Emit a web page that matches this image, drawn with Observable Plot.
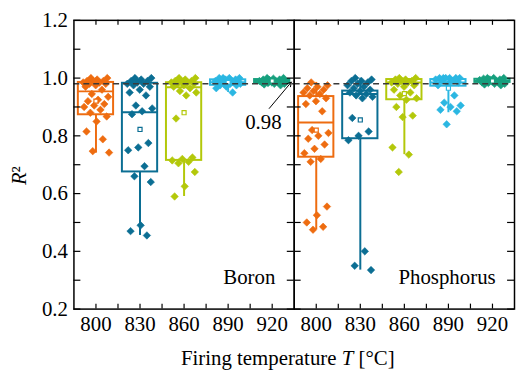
<!DOCTYPE html>
<html>
<head>
<meta charset="utf-8">
<script src="https://cdn.jsdelivr.net/npm/d3@7"></script>
<script src="https://cdn.jsdelivr.net/npm/@observablehq/plot@0.6"></script>
<style>
  html, body { margin: 0; padding: 0; background: white; overflow: hidden; width: 516px; height: 378px; }
</style>
</head>
<body>
<div id="chart"></div>
<script>
// ---------- data ----------
const temps = [800, 830, 860, 890, 920];
const elements = ["Boron", "Phosphorus"];
const palette = ["#ee6c10", "#0b6e93", "#b3c80a", "#2bb7e2", "#17a07e"];
const yTickLabels = [0.2, 0.4, 0.6, 0.8, 1.0, 1.2];
const yMinorTicks = [0.3, 0.5, 0.7, 0.9, 1.1];
const xMinorTicks = [815, 845, 875, 905];
const refLine = 0.98;

// box statistics (per temperature)
const boronQ1     = [0.873, 0.675, 0.715, 0.975, 0.982];
const boronMedian = [0.954, 0.882, 0.968, 0.986, 0.990];
const boronQ3     = [0.985, 0.982, 0.984, 0.994, 0.995];
const boronLow    = [0.740, 0.455, 0.590, 0.950, 0.975];
const boronHigh   = [1.000, 1.000, 1.000, 1.000, 1.000];
const boronMean   = [0.920, 0.822, 0.880, 0.985, 0.990];

const phosQ1      = [0.726, 0.790, 0.925, 0.972, 0.985];
const phosMedian  = [0.846, 0.945, 0.985, 0.985, 0.990];
const phosQ3      = [0.936, 0.955, 0.995, 0.995, 0.996];
const phosLow     = [0.475, 0.335, 0.735, 0.880, 0.978];
const phosHigh    = [0.985, 1.000, 1.000, 1.000, 1.000];
const phosMean    = [0.820, 0.855, 0.946, 0.965, 0.990];

// individual R² values
const boron800 = [1.0, 1.0, 0.995, 0.99, 0.99, 0.99, 0.985, 0.985, 0.98, 0.98, 0.975, 0.97, 0.96, 0.945, 0.935, 0.925, 0.92, 0.91, 0.905, 0.9, 0.89, 0.88, 0.867, 0.85, 0.815, 0.788, 0.747, 0.742];
const boron830 = [1.0, 1.0, 0.995, 0.99, 0.99, 0.985, 0.98, 0.98, 0.975, 0.97, 0.96, 0.95, 0.94, 0.905, 0.895, 0.885, 0.875, 0.775, 0.76, 0.75, 0.695, 0.66, 0.64, 0.49, 0.47, 0.455];
const boron860 = [1.0, 1.0, 0.995, 0.99, 0.99, 0.99, 0.985, 0.985, 0.98, 0.98, 0.975, 0.97, 0.965, 0.955, 0.95, 0.94, 0.86, 0.725, 0.72, 0.715, 0.71, 0.705, 0.675, 0.625, 0.59];
const boron890 = [1.0, 1.0, 1.0, 1.0, 0.995, 0.995, 0.99, 0.99, 0.99, 0.99, 0.985, 0.985, 0.985, 0.98, 0.98, 0.98, 0.975, 0.975, 0.97, 0.965, 0.95];
const boron920 = [1.0, 1.0, 0.998, 0.995, 0.995, 0.993, 0.99, 0.99, 0.99, 0.988, 0.985, 0.985, 0.985, 0.983, 0.98, 0.98, 0.978, 0.975];
const phos800  = [0.985, 0.975, 0.97, 0.965, 0.96, 0.955, 0.95, 0.945, 0.94, 0.93, 0.92, 0.91, 0.885, 0.82, 0.81, 0.8, 0.79, 0.77, 0.755, 0.74, 0.72, 0.71, 0.555, 0.525, 0.5, 0.485, 0.475];
const phos830  = [1.0, 0.995, 0.99, 0.99, 0.985, 0.98, 0.975, 0.97, 0.965, 0.96, 0.955, 0.95, 0.945, 0.94, 0.935, 0.93, 0.862, 0.815, 0.8, 0.785, 0.4, 0.35, 0.335];
const phos860  = [1.0, 1.0, 0.995, 0.995, 0.99, 0.99, 0.985, 0.985, 0.98, 0.975, 0.97, 0.96, 0.95, 0.94, 0.93, 0.925, 0.9, 0.87, 0.865, 0.76, 0.735, 0.675];
const phos890  = [1.0, 1.0, 1.0, 1.0, 1.0, 1.0, 0.995, 0.99, 0.99, 0.985, 0.98, 0.975, 0.94, 0.915, 0.905, 0.9, 0.89, 0.885, 0.84];
const phos920  = [1.0, 1.0, 1.0, 0.998, 0.995, 0.995, 0.993, 0.99, 0.99, 0.99, 0.988, 0.985, 0.985, 0.983, 0.98, 0.98, 0.978, 0.975];

// ---------- build tables ----------
const boxStats = {
  Boron: {q1: boronQ1, med: boronMedian, q3: boronQ3, lo: boronLow, hi: boronHigh, mean: boronMean},
  Phosphorus: {q1: phosQ1, med: phosMedian, q3: phosQ3, lo: phosLow, hi: phosHigh, mean: phosMean}
};
const pointSets = {
  Boron: [boron800, boron830, boron860, boron890, boron920],
  Phosphorus: [phos800, phos830, phos860, phos890, phos920]
};
const boxes = [];
const points = [];
for (const el of elements) {
  temps.forEach((T, k) => {
    const s = boxStats[el];
    boxes.push({el, T, q1: s.q1[k], med: s.med[k], q3: s.q3[k], lo: s.lo[k], hi: s.hi[k], mean: s.mean[k]});
    pointSets[el][k].forEach((v, i) => points.push({el, T, v, i}));
  });
}

// layout constants
const serif = "Liberation Serif";
const xDomain = [785, 935];
const yDomain = [0.2, 1.2];
const W = 520, H = 378, mL = 73.5, mR = 1.5, mT = 20, mB = 67;
const panelW = (W - mL - mR) / elements.length;
const kx = panelW / (xDomain[1] - xDomain[0]);        // px per °C
const ky = (H - mT - mB) / (yDomain[1] - yDomain[0]); // px per unit
const halfBox = 12;     // °C
const jitterHalf = 9;   // °C
const jitter = (i) => (((i + 0.5) * 0.6180339887) % 1 - 0.5) * 2 * jitterHalf;

const xTickAll = [...temps, ...xMinorTicks];
const yTickAll = [...yTickLabels, ...yMinorTicks];
const tx = 5 / ky, ty = 7 / kx;

const chart = Plot.plot({
  width: W, height: H,
  marginLeft: mL, marginRight: mR, marginTop: mT, marginBottom: mB,
  style: {fontFamily: serif, fontSize: "21px", background: "white", color: "black", overflow: "visible"},
  fx: {domain: elements, padding: 0, axis: null, label: null},
  x: {domain: xDomain, label: null},
  y: {domain: yDomain, label: null},
  color: {type: "ordinal", domain: temps, range: palette},
  marks: [
    // boxes
    Plot.ruleX(boxes, {fx: "el", x: "T", y1: "lo", y2: "q1", stroke: "T", strokeWidth: 2}),
    Plot.ruleX(boxes, {fx: "el", x: "T", y1: "q3", y2: "hi", stroke: "T", strokeWidth: 2}),
    Plot.rect(boxes, {fx: "el", x1: d => d.T - halfBox, x2: d => d.T + halfBox, y1: "q1", y2: "q3", stroke: "T", fill: "none", strokeWidth: 2}),
    Plot.ruleY(boxes, {fx: "el", y: "med", x1: d => d.T - halfBox, x2: d => d.T + halfBox, stroke: "T", strokeWidth: 2}),
    // points
    Plot.dot(points, {fx: "el", x: d => d.T + jitter(d.i), y: "v", symbol: "diamond2", r: 3.4, fill: "T", stroke: "T", strokeWidth: 0.6}),
    // means
    Plot.dot(boxes, {fx: "el", x: "T", y: "mean", symbol: "square", r: 2.3, fill: "white", stroke: "T", strokeWidth: 1.2}),
    // reference line
    Plot.ruleY([refLine], {stroke: "#3a3a3a", strokeWidth: 1.5, strokeDasharray: "6,4"}),
    // annotation (Boron panel)
    Plot.arrow([{el: "Boron"}], {fx: "el", x1: 918, y1: 0.895, x2: 933, y2: 0.986, stroke: "black", strokeWidth: 1, headLength: 7}),
    Plot.text([{el: "Boron", t: "0.98"}], {fx: "el", x: 914, y: 0.846, text: "t", textAnchor: "middle", lineAnchor: "middle", fill: "black", fontFamily: serif}),
    // panel labels
    Plot.text(elements, {fx: d => d, text: d => d, frameAnchor: "bottom-right", textAnchor: "end", lineAnchor: "middle", dx: -19, dy: -32, fill: "black", fontFamily: serif}),
    // frame
    Plot.frame({stroke: "black", strokeWidth: 1.5}),
    // inward ticks
    Plot.ruleX(xTickAll, {x: d => d, y1: yDomain[0], y2: yDomain[0] + tx, stroke: "black", strokeWidth: 1.2}),
    Plot.ruleX(xTickAll, {x: d => d, y1: yDomain[1], y2: yDomain[1] - tx, stroke: "black", strokeWidth: 1.2}),
    Plot.ruleY(yTickAll, {y: d => d, x1: xDomain[0], x2: xDomain[0] + ty, stroke: "black", strokeWidth: 1.2}),
    Plot.ruleY(yTickAll, {y: d => d, x1: xDomain[1], x2: xDomain[1] - ty, stroke: "black", strokeWidth: 1.2}),
    // tick labels
    Plot.axisY({ticks: yTickLabels, tickSize: 0, tickPadding: 6, tickFormat: d3.format(".1f"), label: null, fontFamily: serif}),
    Plot.axisX({ticks: temps, tickSize: 0, tickPadding: 7, tickFormat: d => String(d), label: null, fontFamily: serif})
  ]
});

document.getElementById("chart").appendChild(chart);

// axis titles with mixed styling
const svg = d3.select(chart.tagName.toLowerCase() === "svg" ? chart : chart.querySelector("svg"));
svg.attr("font-family", serif);
const xt = svg.append("text")
  .attr("x", 290).attr("y", 368)
  .attr("text-anchor", "middle")
  .attr("font-family", serif)
  .attr("font-size", 21).attr("fill", "black");
xt.append("tspan").text("Firing temperature ");
xt.append("tspan").attr("font-style", "italic").text("T");
xt.append("tspan").text(" [°C]");

const yt = svg.append("text")
  .attr("transform", "translate(26,177) rotate(-90)")
  .attr("text-anchor", "middle")
  .attr("font-family", serif)
  .attr("font-size", 21).attr("fill", "black");
yt.append("tspan").attr("font-style", "italic").text("R");
yt.append("tspan").text("²");

svg.selectAll("text").attr("font-family", serif);
</script>
</body>
</html>
